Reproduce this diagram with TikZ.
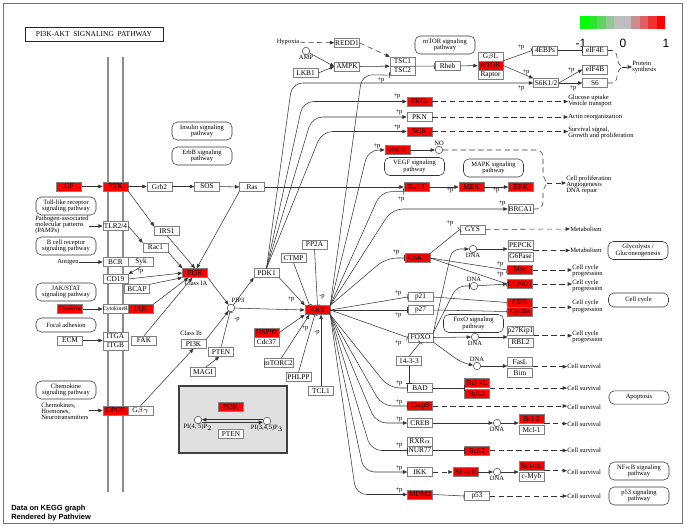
\documentclass[tikz,border=0pt]{standalone}
\usepackage{fontspec}
\setmainfont{Liberation Serif}
\newfontfamily\legendfont{Liberation Sans}
\usetikzlibrary{arrows.meta,calc}

\definecolor{lg0}{RGB}{0,255,0}
\definecolor{lg1}{RGB}{45,228,45}
\definecolor{lg2}{RGB}{95,212,95}
\definecolor{lg3}{RGB}{150,198,150}
\definecolor{lg4}{RGB}{190,190,190}
\definecolor{lg5}{RGB}{190,190,190}
\definecolor{lg6}{RGB}{206,140,140}
\definecolor{lg7}{RGB}{222,95,95}
\definecolor{lg8}{RGB}{238,50,50}
\definecolor{lg9}{RGB}{255,0,0}

\newcommand\gfont{\fontsize{5.5}{5.5}\selectfont}
\newcommand\pfont{\fontsize{4.9}{4.6}\selectfont}
\newcommand\lfont{\fontsize{4.9}{4.6}\selectfont}

\begin{document}
\begin{tikzpicture}[x=0.75pt,y=0.75pt,yscale=-1,
  gene/.style={draw=black!50, fill=white, minimum width=18.75pt, minimum height=6.6pt, inner sep=0pt, font=\gfont},
  upg/.style={gene, fill=red},
  pw/.style={draw=black!80, rounded corners=4pt, align=center, minimum width=45pt, minimum height=13.5pt, inner sep=0.5pt, font=\pfont},
  cpd/.style={circle, draw=black!70, fill=white, minimum size=5.6pt, inner sep=0pt},
  txt/.style={inner sep=0pt, font=\lfont, align=left},
  pl/.style={inner sep=0pt, font=\lfont},
  act/.style={draw=black!80, line width=0.4pt, -{Triangle[length=3.2pt,width=2.6pt]}},
  inh/.style={draw=black!80, line width=0.4pt, -{Bar[width=4.5pt]}},
  ind/.style={act, dash pattern=on 4pt off 2.6pt},
  dsh/.style={draw=black!80, line width=0.4pt, dash pattern=on 4pt off 2.6pt},
]
\useasboundingbox (0,0) rectangle (685,527);

%frame and title
\draw[black!55, line width=0.7pt] (3,3) rectangle (682,523);
\node[draw=black!85, line width=0.6pt, minimum width=103.5pt, minimum height=11pt, inner sep=0pt, font=\fontsize{5.6}{5.6}\selectfont] (title) at (94,34.5) {PI3K-AKT\ \ SIGNALING\ \ PATHWAY};

%colour key
\foreach \i in {0,...,9}
  \fill[lg\i] (580+8.5*\i,16) rectangle (588.5+8.5*\i,29);
\node[font=\legendfont\fontsize{9}{9}\selectfont, inner sep=0pt] (keymin) at (581,43) {-1};
\node[font=\legendfont\fontsize{9}{9}\selectfont, inner sep=0pt] (keymid) at (623,43) {0};
\node[font=\legendfont\fontsize{9}{9}\selectfont, inner sep=0pt] (keymax) at (666,43) {1};
\node[anchor=west, align=left, inner sep=0pt, font=\legendfont\bfseries\fontsize{5.6}{6.2}\selectfont] (credit) at (11,513) {Data on KEGG graph\\Rendered by Pathview};

%membrane
\draw[black!45, line width=1.5pt] (108,57) -- (108,492);
\draw[black!45, line width=1.5pt] (123,57) -- (123,492);

%grey box
\draw[fill=black!12, draw=black!75, line width=0.8pt] (179,386) rectangle (287,453);

%pathway maps
\node[pw] (insulin) at (202,131) {Insulin signaling\\pathway};
\node[pw] (erbb) at (202,156) {ErbB signaling\\pathway};
\node[pw] (mtorpw) at (445,45) {mTOR signaling\\pathway};
\node[pw] (vegf) at (414.5,166.5) {VEGF signaling\\pathway};
\node[pw] (mapk) at (493.5,168) {MAPK signaling\\pathway};
\node[pw] (toll) at (66,206) {Toll-like receptor\\signaling pathway};
\node[pw] (bcell) at (66,246) {B cell receptor\\signaling pathway};
\node[pw] (jakpw) at (66,292) {JAK/STAT\\signaling pathway};
\node[pw, minimum height=10.5pt] (focal) at (66,325) {Focal adhesion};
\node[pw] (chemo) at (66,390) {Chemokine\\signaling pathway};
\node[pw] (glyco) at (638,250.5) {Glycolysis /\\Gluconeogenesis};
\node[pw, minimum height=10.5pt] (cellcyc) at (638.5,300) {Cell cycle};
\node[pw] (foxopw) at (473.5,323.5) {FoxO signaling\\pathway};
\node[pw, minimum height=10pt] (apop) at (639,397.5) {Apoptosis};
\node[pw] (nfkbpw) at (639,471) {NF$\kappa$B signaling\\pathway};
\node[pw] (p53pw) at (639,496) {p53 signaling\\pathway};

%genes, left
\node[upg] (GF) at (69,186.5) {GF};
\node[upg] (RTK) at (115.5,186.5) {RTK};
\node[gene] (Grb2) at (159.5,186.5) {Grb2};
\node[gene] (SOS) at (207,186.5) {SOS};
\node[gene] (Ras) at (252,187) {Ras};
\node[gene] (TLR) at (115.5,226) {TLR2/4};
\node[gene] (IRS1) at (167,231) {IRS1};
\node[gene] (Rac1) at (155.5,247.5) {Rac1};
\node[gene] (BCR) at (115.5,262) {BCR};
\node[gene] (Syk) at (141,262) {Syk};
\node[gene] (CD19) at (115.5,279) {CD19};
\node[gene] (BCAP) at (137,289) {BCAP};
\node[upg] (PI3Ka) at (195,273) {PI3K};
\node[upg, font=\fontsize{4.7}{4.7}\selectfont] (Cytokine) at (70,309) {Cytokine};
\node[gene, font=\fontsize{4.3}{4.3}\selectfont] (CytR) at (115.5,309) {CytokineR};
\node[upg] (JAK) at (140.5,309) {JAK};
\node[gene] (ECM) at (70,340.5) {ECM};
\node[gene] (ITGA) at (115.5,336.5) {ITGA};
\node[gene] (ITGB) at (115.5,345.5) {ITGB};
\node[gene] (FAK) at (144,340.5) {FAK};
\node[gene] (PI3Kb) at (193.5,344) {PI3K};
\node[gene] (PTEN) at (221,352) {PTEN};
\node[gene] (MAGI) at (203,372) {MAGI};
\node[upg] (GPCR) at (115.5,410.5) {GPCR};
\node[gene] (Gbg) at (140.5,410.5) {G$\beta\gamma$};

%genes, top
\node[gene] (REDD1) at (347,43) {REDD1};
\node[gene] (AMPK) at (347,66.5) {AMPK};
\node[gene] (LKB1) at (305.5,73) {LKB1};
\node[gene] (TSC1) at (402.5,61.5) {TSC1};
\node[gene] (TSC2) at (402.5,70.5) {TSC2};
\node[gene] (Rheb) at (447.5,66) {Rheb};
\node[gene] (GbL) at (490.5,56.5) {G$\beta$L};
\node[upg] (mTOR) at (490.5,65.5) {mTOR};
\node[gene] (Raptor) at (490.5,74.5) {Raptor};
\node[gene] (EBP) at (545,50.5) {4EBPs};
\node[gene] (eIF4E) at (595,50.5) {eIF4E};
\node[gene] (eIF4B) at (595,69.5) {eIF4B};
\node[gene] (S6K) at (546,83) {S6K1/2};
\node[gene] (S6) at (595,83) {S6};
\node[upg] (PKC) at (419.5,101.5) {PKCs};
\node[gene] (PKN) at (419.5,117) {PKN};
\node[upg] (SGK) at (419.5,131.5) {SGK};
\node[upg] (eNOS) at (397.5,150) {eNOS};
\node[upg] (Raf) at (416.5,187) {Raf-1};
\node[upg] (MEK) at (471.5,187) {MEK};
\node[upg] (ERK) at (521,187) {ERK};
\node[gene] (BRCA1) at (520.5,209) {BRCA1};

%genes, centre and right
\node[gene] (PP2A) at (314.5,244.5) {PP2A};
\node[gene] (CTMP) at (293.5,258) {CTMP};
\node[gene] (PDK1) at (266.5,273) {PDK1};
\node[upg] (AKT) at (317.5,310) {AKT};
\node[upg] (HSP90) at (266.5,332.5) {HSP90};
\node[gene] (Cdc37) at (266.5,341.5) {Cdc37};
\node[gene] (mTORC2) at (278.5,363) {mTORC2};
\node[gene] (PHLPP) at (298.5,377) {PHLPP};
\node[gene] (TCL1) at (321,391) {TCL1};
\node[gene] (GYS) at (472.5,229.5) {GYS};
\node[upg] (GSK3) at (417.5,258) {GSK3};
\node[gene] (PEPCK) at (520.5,245) {PEPCK};
\node[gene] (G6P) at (520.5,256.5) {G6Pase};
\node[upg] (Myc) at (520,270) {Myc};
\node[upg] (CCND1) at (520,284) {CCND1};
\node[upg] (CDK) at (520,302.5) {CDK};
\node[upg] (Cyclin) at (520,311.5) {Cyclin};
\node[gene] (p21) at (420.5,297) {p21};
\node[gene] (p27) at (420.5,310) {p27};
\node[gene] (FOXO) at (420.5,337.5) {FOXO};
\node[gene] (p27Kip1) at (520.5,331) {p27Kip1};
\node[gene] (RBL2) at (520.5,342.5) {RBL2};
\node[gene] (YWHA) at (409,361) {14-3-3};
\node[gene] (BAD) at (420,388) {BAD};
\node[upg] (Casp9) at (420,406) {Casp9};
\node[gene] (CREB) at (420,423) {CREB};
\node[gene] (RXRa) at (420,441.5) {RXR$\alpha$};
\node[gene] (NUR77) at (420,450.5) {NUR77};
\node[gene] (IKK) at (420,472) {IKK};
\node[upg] (MDM2) at (420,494.5) {MDM2};
\node[gene] (FasL) at (520,362) {FasL};
\node[gene] (Bim) at (520,373) {Bim};
\node[upg] (BclxLa) at (477,382.5) {Bcl-xL};
\node[upg] (Bcl2a) at (477,393.5) {Bcl-2};
\node[upg] (Bcl2b) at (531.5,419) {Bcl-2};
\node[gene] (Mcl1) at (531.5,430) {Mcl-1};
\node[upg] (Bcl2c) at (477,450.5) {Bcl-2};
\node[upg] (NFkB) at (465.5,472) {NF-$\kappa$B};
\node[upg] (BclxLb) at (531.5,466) {Bcl-xL};
\node[gene] (cMyb) at (531.5,477) {c-Myb};
\node[gene] (p53) at (477,496) {p53};
\node[upg] (PI3Kc) at (230.5,407) {PI3K};
\node[gene] (PTENb) at (231,434) {PTEN};

%compounds
\node[cpd, label={[pl]below:AMP}] (AMP) at (306,51) {};
\node[cpd] (PIP3) at (231,308) {};
\node[pl] (PIP3lbl) at (238,300) {PIP3};
\node[cpd, label={[pl]above:NO}] (NO) at (439,150) {};
\node[cpd, label={[pl]below:DNA}] (dnaA) at (473,249) {};
\node[cpd, label={[pl]above:DNA}] (dnaB) at (474,286) {};
\node[cpd, label={[pl]below:DNA}] (dnaC) at (475,337) {};
\node[cpd, label={[pl]above:DNA}] (dnaD) at (477,366) {};
\node[cpd, label={[pl]below:DNA}] (dnaE) at (497,423) {};
\node[cpd, label={[pl]below:DNA}] (dnaF) at (497,472) {};
\node[cpd, label={[pl]below:PI(4, 5)P$_2$}] (PIP2) at (198,420) {};
\node[cpd, label={[pl]below:PI(3,4,5)P$_3$}] (PIP3x) at (267,421) {};

%free texts
\node[pl] (hypoxia) at (288,42) {Hypoxia};
\node[txt, anchor=west] (pamps) at (35,225) {Pathogen-associated\\molecular patterns\\(PAMPs)};
\node[pl] (antigen) at (68,262) {Antigen};
\node[txt, anchor=west] (chemok) at (41,411.5) {Chemokines,\\Hormones,\\Neurotransmitters};
\node[pl] (classIA) at (196,283) {Class IA};
\node[pl] (classIb) at (191,333) {Class Ib};
\node[txt, anchor=west] (protein) at (632,67) {Protein\\synthesis};
\node[txt, anchor=west] (glucose) at (568,101) {Glucose uptake\\Vesicle transport};
\node[txt, anchor=west] (actin) at (568,117) {Actin reorganization};
\node[txt, anchor=west] (survsig) at (568,133) {Survival signal,\\Growth and proliferation};
\node[txt, anchor=west] (prolif) at (566,185) {Cell proliferation\\Angiogenesis\\DNA repair};
\node[txt, anchor=west] (metabA) at (570,229) {Metabolism};
\node[txt, anchor=west] (metabB) at (570,250.5) {Metabolism};
\node[txt, anchor=west] (ccpA) at (572,271) {Cell cycle\\progression};
\node[txt, anchor=west] (ccpB) at (572,286) {Cell cycle\\progression};
\node[txt, anchor=west] (ccpC) at (572,306.5) {Cell cycle\\progression};
\node[txt, anchor=west] (ccpD) at (572,337) {Cell cycle\\progression};
\node[txt, anchor=west] (csA) at (567,366) {Cell survival};
\node[txt, anchor=west] (csB) at (567,388) {Cell survival};
\node[txt, anchor=west] (csC) at (567,407) {Cell survival};
\node[txt, anchor=west] (csD) at (567,424) {Cell survival};
\node[txt, anchor=west] (csE) at (567,450.5) {Cell survival};
\node[txt, anchor=west] (csF) at (567,472) {Cell survival};
\node[txt, anchor=west] (csG) at (567,496) {Cell survival};

%receptors and PI3K
\draw[act] (GF) -- (RTK);
\draw[act] (RTK) -- (Grb2);
\draw[act] (Grb2) -- (SOS);
\draw[act] (SOS) -- (Ras);
\draw[act] (RTK.south east) -- (IRS1.north west);
\draw[act] (IRS1.south) -- (PI3Ka.north);
\draw[act] (Ras.south west) -- (PI3Ka.70);
\draw[act] (pamps.east |- TLR) -- (TLR);
\draw[act] (TLR.east) -- (Rac1.north west);
\draw[act] (Rac1.south east) -- (PI3Ka.north west);
\draw[act] (antigen) -- (BCR);
\draw[act] (Syk.south) -- (CD19.north east);
\draw[act] (CD19.east) -- (PI3Ka.west);
\draw[act] (BCAP.north east) -- (PI3Ka.200);
\draw[act] (JAK.north east) -- (PI3Ka.215);
\draw[act] (FAK.north) -- (PI3Ka.240);
\draw[act] (Cytokine) -- (CytR);
\draw[act] (ECM) -- (ECM -| ITGA.west);
\draw[act] (chemok.east |- GPCR) -- (GPCR);
\draw[act] (Gbg.north) -- (PI3Kb.south);
\draw[act] (PI3Ka.south east) -- (PIP3);
\draw[act] (PI3Kb.north east) -- (PIP3);
\draw[act] (MAGI.60) -- (PTEN.250);
\draw[inh] (PTEN.north) -- (PIP3);
\draw[act] (PIP3) -- (PDK1.south west);
\draw[act] (PIP3) -- (AKT.west);
\draw[act] ([yshift=1.8pt]PIP2.east) -- ([yshift=1.8pt]PIP2.east -| PIP3x.west);
\draw[act] ([yshift=-1pt]PIP3x.west) -- ([yshift=-1pt]PIP3x.west -| PIP2.east);

%AKT regulators
\draw[act] (PDK1.south east) -- (AKT.north west);
\draw[inh] (CTMP.south) -- ([xshift=-6pt]AKT.north);
\draw[inh] (PP2A.south) -- (AKT.north);
\draw[act] (HSP90.east) -- (AKT.south west);
\draw[act] (mTORC2.60) -- ([xshift=-6pt]AKT.south);
\draw[inh] (PHLPP.north) -- ([xshift=-2pt]AKT.south);
\draw[act] (TCL1.north) -- (TCL1.north |- AKT.south);

%top
\draw[ind] (hypoxia) -- (REDD1);
\draw[ind] (REDD1.east) -- (TSC1.north west);
\draw[act] (AMP) -- (AMPK.west);
\draw[act] (LKB1.east) -- (AMPK.west);
\draw[act] (AMPK.east) -- (TSC1.south west);
\draw[inh] (TSC1.south east) -- (Rheb.west);
\draw[act] (Rheb) -- (mTOR);
\draw[inh] (mTOR.north east) -- (EBP.west);
\draw[act] (mTOR.east) -- (S6K.north west);
\draw[inh] (EBP) -- (eIF4E);
\draw[act] (S6K.east) -- (eIF4B.west);
\draw[act] (S6K) -- (S6);
\coordinate (brc) at (622,67);
\draw[dsh, rounded corners=3pt] (eIF4E.east) -- (616,50.5) -- (618,64) -- (brc);
\draw[dsh, rounded corners=3pt] (S6.east) -- (616,83) -- (618,70) -- (brc);
\draw[ind] (brc) -- (protein.west);

%PDK1 targets
\draw[act, rounded corners=8pt] (PDK1.north) -- (292,83) -- (S6K.west);
\draw[act, rounded corners=8pt] (PDK1.north) -- (303,101.5) -- (PKC.west);
\draw[act, rounded corners=8pt] (PDK1.north) -- (312,117) -- (PKN.west);
\draw[act, rounded corners=8pt] (PDK1.north) -- (322,131.5) -- (SGK.west);
\draw[ind] (PKC) -- (PKC -| glucose.west);
\draw[ind] (PKN) -- (actin.west);
\draw[ind] (SGK) -- (SGK -| survsig.west);

%AKT targets, upwards
\draw[inh, rounded corners=8pt] (AKT.north east) -- (362,74.5) -- (TSC2.south west);
\draw[act, rounded corners=8pt] (AKT.north east) -- (368,150) -- (eNOS.west);
\draw[inh, rounded corners=8pt] (AKT.north east) -- (381,191.5) -- (Raf.south west);
\draw[act, rounded corners=8pt] (AKT.north east) -- (392,209) -- (BRCA1.west);
\draw[inh, rounded corners=8pt] (AKT.north east) -- (386,258) -- (GSK3.west);
\draw[act] (eNOS) -- (NO);
\draw[act] (Ras) -- (Raf);
\draw[act] (Raf) -- (MEK);
\draw[act] (MEK) -- (ERK);
\coordinate (brp) at (547,183);
\draw[dsh, rounded corners=5pt] (NO) -- (543,150) -- (543,179) -- (brp);
\draw[dsh, rounded corners=5pt] (BRCA1) -- (543,209) -- (543,187) -- (brp);
\draw[ind] (brp) -- (brp -| prolif.west);

%GSK3, cell cycle
\draw[inh] (GSK3.north east) -- (GYS.west);
\draw[inh] (GSK3.east) -- (Myc.west);
\draw[inh] (GSK3.east) -- (CCND1.west);
\draw[ind] (GYS) -- (metabA.west);
\draw[ind] (PEPCK.south east |- metabB) -- (metabB.west);
\draw[ind] (Myc) -- (Myc -| ccpA.west);
\draw[ind] (CCND1) -- (CCND1 -| ccpB.west);
\draw[ind] (CDK.south east) -- (CDK.south east -| ccpC.west);
\draw[ind] (p27Kip1.south east) -- (p27Kip1.south east -| ccpD.west);
\draw[inh] (AKT.east) -- (p21.west);
\draw[inh] (AKT.east) -- (p27.west);
\draw[inh] (AKT.east) -- (FOXO.west);
\draw[inh] (p21.east) -- (CDK.west);
\draw[inh] (p27.east) -- (Cyclin.west);

%FOXO
\draw[act, rounded corners=6pt] (FOXO.north east) -- (452,249) -- (dnaA);
\draw[act] (dnaA) -- (dnaA -| PEPCK.west);
\draw[inh, rounded corners=6pt] (FOXO.north east) -- (457,286) -- (dnaB);
\draw[act] (dnaB) -- (CCND1.west);
\draw[act] (FOXO.east) -- (dnaC);
\draw[act] (dnaC) -- (dnaC -| RBL2.west);
\draw[act, rounded corners=6pt] (FOXO.south east) -- (462,363) -- (dnaD);
\draw[act] (dnaD) -- (dnaD -| FasL.west);
\draw[ind] (FasL.south east) -- (FasL.south east -| csA.west);
\draw[inh] (YWHA.north) -- (FOXO.south);
\draw[inh] (YWHA.south) -- (YWHA.south |- BAD.north);

%AKT targets, downwards
\draw[inh, rounded corners=8pt] (AKT.south east) -- (389,388) -- (BAD.west);
\draw[inh, rounded corners=8pt] (AKT.south east) -- (382,406) -- (Casp9.west);
\draw[act, rounded corners=8pt] (AKT.south east) -- (376,423) -- (CREB.west);
\draw[inh, rounded corners=8pt] (AKT.south east) -- (371,450.5) -- (NUR77.west);
\draw[act, rounded corners=8pt] (AKT.south east) -- (364,472) -- (IKK.west);
\draw[act, rounded corners=8pt] (AKT.south east) -- (356,494.5) -- (MDM2.west);
\draw[inh] (BAD.east) -- (BAD.east -| BclxLa.west);
\draw[ind] (BclxLa.south east |- csB) -- (csB.west);
\draw[ind] (Casp9) -- (Casp9 -| csC.west);
\draw[act] (CREB) -- (dnaE);
\draw[act] (dnaE) -- (dnaE -| Bcl2b.west);
\draw[ind] (Bcl2b.south east) -- (Bcl2b.south east -| csD.west);
\draw[inh] (NUR77.east) -- (Bcl2c.west);
\draw[ind] (Bcl2c) -- (Bcl2c -| csE.west);
\draw[ind] (IKK) -- (NFkB);
\draw[act] (NFkB) -- (dnaF);
\draw[act] (dnaF) -- (dnaF -| BclxLb.west);
\draw[ind] (BclxLb.south east) -- (BclxLb.south east -| csF.west);
\draw[inh] (MDM2.east) -- (p53.west);
\draw[ind] (p53) -- (csG.west);

%phosphorylation marks
\node[pl] (pTSC) at (381,80) {+p};
\node[pl] (pPKC) at (397,96) {+p};
\node[pl] (pPKN) at (399,112) {+p};
\node[pl] (pSGK) at (397,127) {+p};
\node[pl] (peNOS) at (377,146) {+p};
\node[pl] (pEBP) at (521,47) {+p};
\node[pl] (pS6Ka) at (526,72) {+p};
\node[pl] (pS6Kb) at (521,88) {+p};
\node[pl] (peIF4B) at (571,70) {+p};
\node[pl] (pS6) at (573,88) {+p};
\node[pl] (pRaf) at (401,199) {+p};
\node[pl] (pMEK) at (450,190) {+p};
\node[pl] (pERK) at (496,190) {+p};
\node[pl] (pBRCA1) at (502,203) {+p};
\node[pl] (pGYS) at (450,223) {+p};
\node[pl] (pGSK3) at (396,252) {+p};
\node[pl] (pMyc) at (500,264) {+p};
\node[pl] (pCCND1) at (500,274) {+p};
\node[pl] (pp21) at (398,293) {+p};
\node[pl] (pp27) at (398,315) {+p};
\node[pl] (pFOXO) at (398,343) {+p};
\node[pl] (pBAD) at (399,383) {+p};
\node[pl] (pCasp9) at (399,402) {+p};
\node[pl] (pCREB) at (399,419) {+p};
\node[pl] (pNUR77) at (399,445) {+p};
\node[pl] (pIKK) at (399,468) {+p};
\node[pl] (pMDM2) at (399,490) {+p};
\node[pl] (pPDK1) at (291,299) {+p};
\node[pl] (pPP2A) at (322,297) {-p};
\node[pl] (pmTORC2) at (305,328) {+p};
\node[pl] (pPHLPP) at (317,333) {-p};
\node[pl] (pPTEN) at (237,320) {-p};
\node[pl] (pSyk) at (140,271) {+p};

\end{tikzpicture}
\end{document}
